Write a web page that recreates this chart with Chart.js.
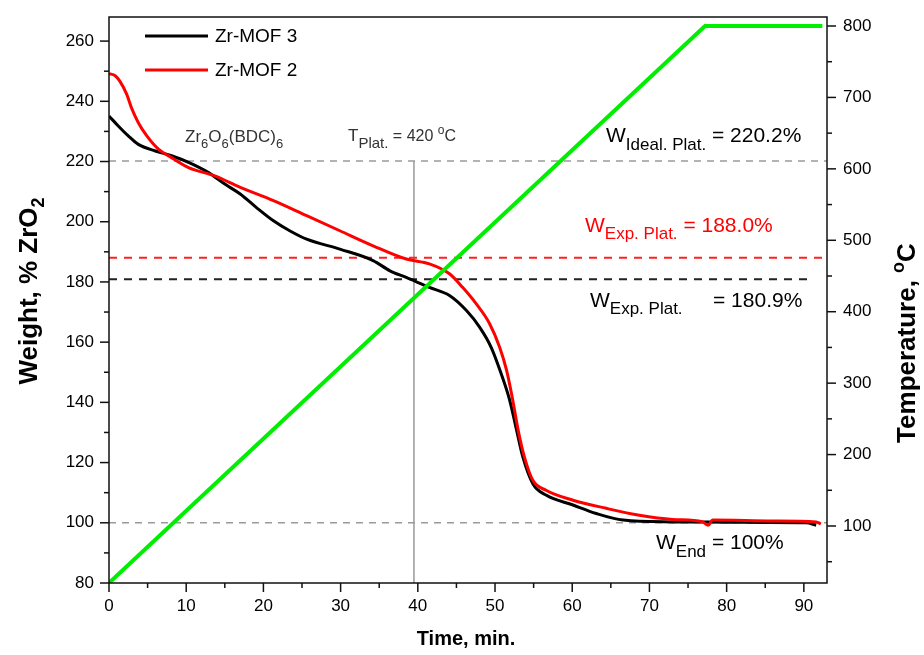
<!DOCTYPE html>
<html>
<head>
<meta charset="utf-8">
<script src="https://cdn.jsdelivr.net/npm/chart.js@4.4.0/dist/chart.umd.min.js"></script>
<style>
  body { margin: 0; background: #fff; }
  #wrap { width: 924px; height: 655px; }
</style>
</head>
<body>
<div id="wrap"><canvas id="chart" width="924" height="655"></canvas></div>
<script>
'use strict';
// values
let timeTicks = [0, 10, 20, 30, 40, 50, 60, 70, 80, 90];
let weightTicks = [80, 100, 120, 140, 160, 180, 200, 220, 240, 260];
let tempTicks = [100, 200, 300, 400, 500, 600, 700, 800];

let mof3Time = [0, 1.2, 2.5, 3.8, 6, 8.1, 10.3, 12.9, 15, 17, 19.1, 21.3, 23.4, 25.6, 29.9, 34.2, 36.4, 38.5, 41.5, 44.1, 46.3, 48, 49.5, 50.8, 51.9, 52.8, 53.6, 54.9, 56.6, 60.1, 63.1, 66.6, 73, 80, 85, 90.3, 91.6];
let mof3Weight = [235.1, 231.8, 228.5, 225.7, 223.5, 221.9, 219.7, 216.3, 212.5, 209.2, 204.7, 200.3, 197, 194.2, 190.9, 187.1, 183.7, 181.5, 178.2, 175.5, 170.5, 165, 158.3, 149.5, 140.7, 130.7, 121.9, 113, 109.2, 105.9, 103.1, 100.9, 100.3, 100.2, 100.1, 100, 99.2];

let mof2Time = [0, 0.8, 1.4, 2.3, 2.9, 3.8, 4.9, 6.4, 8.1, 10.3, 13.7, 17, 21.3, 25.6, 29.9, 34.2, 38.5, 41.5, 44.1, 45.8, 47.6, 49.3, 50.6, 51.5, 52.3, 53, 53.8, 54.9, 56.6, 60.1, 64.4, 68.7, 73, 76.9, 77.6, 78.2, 86, 91.6, 92.2];
let mof2Weight = [249.2, 248.5, 246.7, 242.3, 237.9, 232.9, 228.5, 224.1, 221.3, 218, 215.2, 211.4, 207, 202, 197, 192, 187.6, 186, 182.7, 178.2, 172.6, 166.1, 158.3, 150.6, 140.7, 130.7, 121.9, 114.1, 110.8, 107.5, 104.8, 102.5, 101.1, 100.3, 99.2, 100.9, 100.6, 100.3, 99.6];

let rampTime = [0, 77.2, 92.4];
let rampTemp = [20.2, 800, 800];

let idealPlat = 220.2;
let expPlat2 = 188.0;
let expPlat3 = 180.9;
let endWeight = 100;
let platTime = 39.5;

const FONT = '"Liberation Sans", Arial, sans-serif';

function pairs(xs, ys) {
  return xs.map((x, i) => ({ x: x, y: ys[i] }));
}

function refLine(points, color, dash, width, order) {
  return {
    data: points,
    borderColor: color,
    borderWidth: width,
    borderDash: dash,
    pointRadius: 0,
    fill: false,
    tension: 0,
    yAxisID: 'y',
    order: order
  };
}

// draws text made of pieces with sub / superscripts
function rich(ctx, x, y, parts, color) {
  ctx.fillStyle = color;
  ctx.textAlign = 'left';
  ctx.textBaseline = 'alphabetic';
  parts.forEach(p => {
    ctx.font = (p.b ? 'bold ' : '') + p.s + 'px ' + FONT;
    ctx.fillText(p.t, x, y + (p.dy || 0));
    x += ctx.measureText(p.t).width;
  });
  return x;
}

function richWidth(ctx, parts) {
  let w = 0;
  parts.forEach(p => {
    ctx.font = (p.b ? 'bold ' : '') + p.s + 'px ' + FONT;
    w += ctx.measureText(p.t).width;
  });
  return w;
}

function marks(ctx, scale, values, len, horizontal, side) {
  values.forEach(v => {
    if (v < scale.min || v > scale.max) return;
    let p = scale.getPixelForValue(v);
    ctx.beginPath();
    if (horizontal) {
      ctx.moveTo(p, scale.top);
      ctx.lineTo(p, scale.top + len);
    } else if (side === 'left') {
      ctx.moveTo(scale.right, p);
      ctx.lineTo(scale.right - len, p);
    } else {
      ctx.moveTo(scale.left, p);
      ctx.lineTo(scale.left + len, p);
    }
    ctx.stroke();
  });
}

const decor = {
  id: 'decor',
  afterDatasetsDraw(chart) {
    const ctx = chart.ctx;
    const a = chart.chartArea;
    const sx = chart.scales.x, sy = chart.scales.y, st = chart.scales.y1;
    ctx.save();
    // frame
    ctx.strokeStyle = '#111';
    ctx.lineWidth = 1.5;
    ctx.strokeRect(a.left, a.top, a.right - a.left, a.bottom - a.top);
    // tick marks
    marks(ctx, sx, timeTicks, 9, true);
    marks(ctx, sx, timeTicks.map(v => v + 5), 5, true);
    marks(ctx, sy, weightTicks, 9, false, 'left');
    marks(ctx, sy, weightTicks.map(v => v + 10), 5, false, 'left');
    marks(ctx, st, tempTicks, 9, false, 'right');
    marks(ctx, st, tempTicks.map(v => v - 50), 5, false, 'right');

    // legend
    let legend = [['Zr-MOF 3', '#000', 36], ['Zr-MOF 2', '#ff0000', 70]];
    legend.forEach(l => {
      ctx.strokeStyle = l[1];
      ctx.lineWidth = 3;
      ctx.beginPath();
      ctx.moveTo(145, l[2]);
      ctx.lineTo(208, l[2]);
      ctx.stroke();
      ctx.fillStyle = '#000';
      ctx.font = '19px ' + FONT;
      ctx.textBaseline = 'middle';
      ctx.textAlign = 'left';
      ctx.fillText(l[0], 215, l[2] + 1);
    });

    // annotations
    rich(ctx, 185, 142, [
      { t: 'Zr', s: 17 }, { t: '6', s: 13, dy: 6 }, { t: 'O', s: 17 }, { t: '6', s: 13, dy: 6 },
      { t: '(BDC)', s: 17 }, { t: '6', s: 13, dy: 6 }], '#333');
    rich(ctx, 348, 141, [
      { t: 'T', s: 17 }, { t: 'Plat.', s: 15, dy: 7 }, { t: ' = 420 ', s: 16 },
      { t: 'o', s: 12, dy: -7 }, { t: 'C', s: 16 }], '#333');
    rich(ctx, 606, 142, [
      { t: 'W', s: 21 }, { t: 'Ideal. Plat.', s: 17, dy: 8 }, { t: ' = 220.2%', s: 21 }], '#000');
    rich(ctx, 585, 232, [
      { t: 'W', s: 21 }, { t: 'Exp. Plat.', s: 17, dy: 7 }, { t: ' = 188.0%', s: 21 }], '#ff0000');
    rich(ctx, 590, 307, [
      { t: 'W', s: 21 }, { t: 'Exp. Plat.', s: 17, dy: 7 }], '#000');
    rich(ctx, 713, 307, [{ t: '= 180.9%', s: 21 }], '#000');
    rich(ctx, 656, 549, [
      { t: 'W', s: 21 }, { t: 'End', s: 17, dy: 8 }, { t: ' = 100%', s: 21 }], '#000');

    // axis titles
    let xt = [{ t: 'Time, min.', s: 20, b: true }];
    rich(ctx, 466 - richWidth(ctx, xt) / 2, 645, xt, '#000');

    let yt = [{ t: 'Weight, % ZrO', s: 26, b: true }, { t: '2', s: 18, b: true, dy: 7 }];
    ctx.save();
    ctx.translate(37, 291);
    ctx.rotate(-Math.PI / 2);
    rich(ctx, -richWidth(ctx, yt) / 2, 0, yt, '#000');
    ctx.restore();

    let tt = [{ t: 'Temperature, ', s: 26, b: true }, { t: 'o', s: 18, b: true, dy: -11 }, { t: 'C', s: 26, b: true }];
    ctx.save();
    ctx.translate(915, 343);
    ctx.rotate(-Math.PI / 2);
    rich(ctx, -richWidth(ctx, tt) / 2, 0, tt, '#000');
    ctx.restore();

    ctx.restore();
  }
};

const tickFont = { family: FONT, size: 17 };

let chart = new Chart(document.getElementById('chart'), {
  type: 'line',
  data: {
    datasets: [
      {
        label: 'Temperature',
        data: pairs(rampTime, rampTemp),
        borderColor: '#00ee00',
        borderWidth: 4,
        pointRadius: 0,
        tension: 0,
        yAxisID: 'y1',
        order: 0
      },
      {
        label: 'Zr-MOF 2',
        data: pairs(mof2Time, mof2Weight),
        borderColor: '#ff0000',
        borderWidth: 3,
        pointRadius: 0,
        cubicInterpolationMode: 'monotone',
        yAxisID: 'y',
        order: 1
      },
      {
        label: 'Zr-MOF 3',
        data: pairs(mof3Time, mof3Weight),
        borderColor: '#000000',
        borderWidth: 3,
        pointRadius: 0,
        cubicInterpolationMode: 'monotone',
        yAxisID: 'y',
        order: 2
      },
      refLine([{ x: 0, y: expPlat2 }, { x: 93, y: expPlat2 }], '#ff2020', [8, 7], 2, 3),
      refLine([{ x: 0, y: expPlat3 }, { x: 90.7, y: expPlat3 }], '#222', [8, 7], 2, 4),
      refLine([{ x: 0, y: idealPlat }, { x: 93, y: idealPlat }], '#9a9a9a', [7, 6], 1.5, 5),
      refLine([{ x: 0, y: endWeight }, { x: 93, y: endWeight }], '#9a9a9a', [7, 6], 1.5, 6),
      refLine([{ x: platTime, y: idealPlat }, { x: platTime, y: 80 }], '#999', [], 1.5, 7)
    ]
  },
  options: {
    responsive: false,
    animation: false,
    devicePixelRatio: 1,
    layout: { padding: { top: 17, left: 0, right: 0, bottom: 0 } },
    plugins: { legend: { display: false }, tooltip: { enabled: false } },
    scales: {
      x: {
        type: 'linear',
        min: 0,
        max: 93,
        grid: { display: false, drawTicks: false },
        border: { display: false },
        afterBuildTicks: s => { s.ticks = timeTicks.map(v => ({ value: v })); },
        afterFit: s => { s.height = 72; s.paddingLeft = 0; s.paddingRight = 0; },
        ticks: { font: tickFont, color: '#000', padding: 13, maxRotation: 0, autoSkip: false }
      },
      y: {
        position: 'left',
        min: 80,
        max: 268,
        grid: { display: false, drawTicks: false },
        border: { display: false },
        afterBuildTicks: s => { s.ticks = weightTicks.map(v => ({ value: v })); },
        afterFit: s => { s.width = 109; s.paddingTop = 0; s.paddingBottom = 0; },
        ticks: { font: tickFont, color: '#000', padding: 15 }
      },
      y1: {
        position: 'right',
        min: 20.2,
        max: 812.6,
        grid: { display: false, drawTicks: false },
        border: { display: false },
        afterBuildTicks: s => { s.ticks = tempTicks.map(v => ({ value: v })); },
        afterFit: s => { s.width = 97; s.paddingTop = 0; s.paddingBottom = 0; },
        ticks: { font: tickFont, color: '#000', padding: 16 }
      }
    }
  },
  plugins: [decor]
});
</script>
</body>
</html>
